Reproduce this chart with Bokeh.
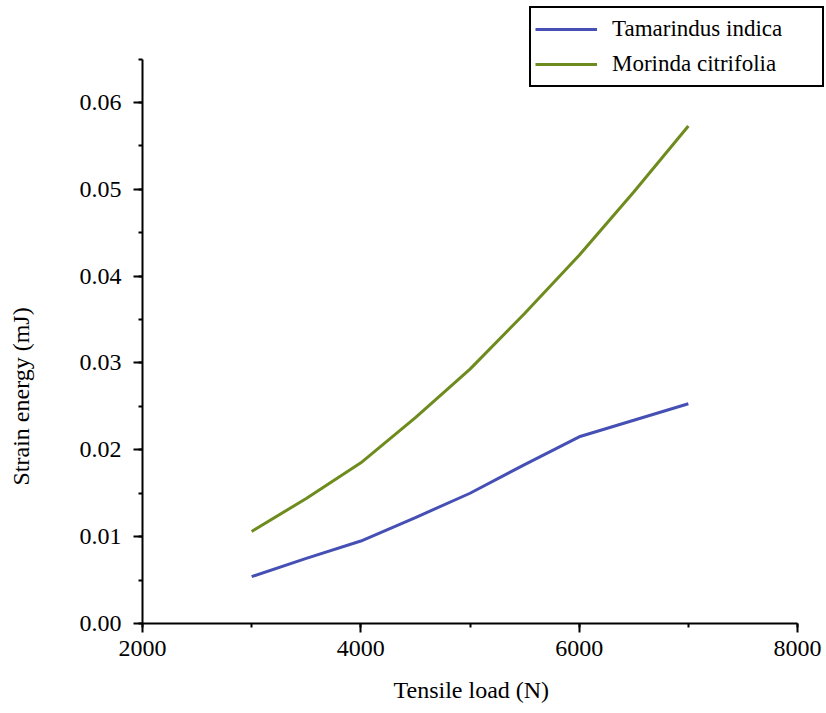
from bokeh.plotting import figure
from bokeh.models import (Range1d, Legend, LegendItem, SingleIntervalTicker,
                          PrintfTickFormatter, Title)
from bokeh.embed import file_html
from bokeh.resources import INLINE

load = [3000, 3500, 4000, 4500, 5000, 5500, 6000, 6500, 7000]
tamarindus = [0.0054, 0.0075, 0.0095, 0.0122, 0.0150, 0.0183, 0.0215, 0.0234, 0.0253]
morinda = [0.0106, 0.0144, 0.0185, 0.0237, 0.0293, 0.0357, 0.0424, 0.0497, 0.0573]
names = ["Tamarindus indica", "Morinda citrifolia"]
colors = ["#4650b4", "#6e8b1d"]
x_label = "Tensile load (N)"
y_label = "Strain energy (mJ)"

FONT = "Liberation Serif"

p = figure(frame_width=682, frame_height=619, output_backend="svg", toolbar_location=None,
           x_range=Range1d(2000, 8247), y_range=Range1d(0, 0.071285),
           min_border_left=142, min_border_right=1, min_border_top=4, min_border_bottom=84)
p.outline_line_color = None
p.xgrid.visible = False
p.ygrid.visible = False

r1 = p.line(load, tamarindus, line_color=colors[0], line_width=3)
r2 = p.line(load, morinda, line_color=colors[1], line_width=3)

p.xaxis.ticker = SingleIntervalTicker(interval=2000, num_minor_ticks=2)
p.yaxis.ticker = SingleIntervalTicker(interval=0.01, num_minor_ticks=2)
p.yaxis.formatter = PrintfTickFormatter(format="%.2f")
p.xaxis.bounds = (2000, 8000)
p.yaxis.bounds = (0, 0.065)

for ax in (p.xaxis, p.yaxis):
    ax.axis_line_color = "black"
    ax.axis_line_width = 2
    ax.major_tick_line_width = 2
    ax.minor_tick_line_width = 2
    ax.major_tick_in = 0
    ax.major_tick_out = 9
    ax.minor_tick_in = 0
    ax.minor_tick_out = 4
    ax.major_label_text_font = FONT
    ax.major_label_text_font_size = "24px"
    ax.major_label_text_color = "black"

p.xaxis.major_label_standoff = 8
p.yaxis.major_label_standoff = 12

# the blank line (with a tuned line height) keeps each title off its axis
ytitle = Title(text=y_label + "\n", align="left", offset=138, standoff=0,
               text_line_height=1.65,
               text_font=FONT, text_font_size="24px", text_font_style="normal", text_color="black")
p.add_layout(ytitle, "left")

xtitle = Title(text="\n" + x_label, align="left", offset=251, standoff=0,
               text_line_height=0.64,
               text_font=FONT, text_font_size="24px", text_font_style="normal", text_color="black")
p.add_layout(xtitle, "below")

legend = Legend(items=[LegendItem(label=names[0], renderers=[r1]),
                       LegendItem(label=names[1], renderers=[r2])],
                location=(387, 536))
legend.label_text_font = FONT
legend.label_text_font_size = "23px"
legend.label_text_color = "black"
legend.glyph_width = 62
legend.glyph_height = 34
legend.label_height = 34
legend.spacing = 1
legend.padding = 4
legend.margin = 0
legend.label_standoff = 15
legend.label_width = 206
legend.border_line_color = "black"
legend.border_line_alpha = 1
legend.border_line_width = 2
legend.background_fill_alpha = 1
p.add_layout(legend, "center")

open("out.html", "w").write(file_html(p, INLINE))
